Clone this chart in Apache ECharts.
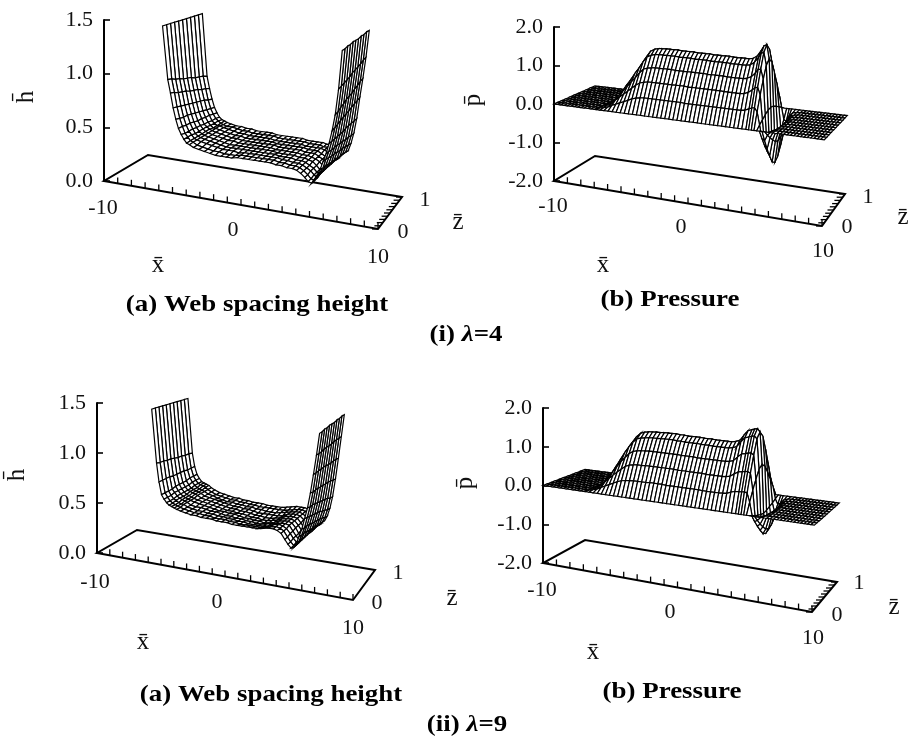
<!DOCTYPE html>
<html><head><meta charset="utf-8">
<style>html,body{margin:0;padding:0;background:#fff}#c{width:911px;height:742px}</style>
<script src="https://cdn.jsdelivr.net/npm/echarts@6/dist/echarts.min.js"></script>
</head><body><div id="c"></div>
<script>
const zLines=[0,.1,.2,.3,.4,.5,.6,.7,.8,.9,1];
const xTicks=[-10,-9,-8,-7,-6,-5,-4,-3,-2,-1,0,1,2,3,4,5,6,7,8,9,10];
const xTickLabels=['-10','0','10'];
const zTickLabels=['1','0'];
const hXs=[-5.8,-5.4,-5.2,-5,-4.8,-4.6,-4.4,-4.2,-4,-3.8,-3.5,-3.1,-2.7,-2.3,-1.9,-1.5,-1.1,-.7,-.3,.1,.5,.9,1.3,1.7,2.1,2.5,2.9,3.3,3.7,4,4.3,4.6,4.85,5.1,5.3,5.5,5.7,5.9,6.1,6.3,6.5,6.7,6.9,7.1];
// web spacing height, lambda=4: one row per x, z = 0 ... 1
const h4=[
[1.5,1.5,1.5,1.5,1.5,1.5,1.5,1.5,1.5,1.5,1.5],
[1.02,1.01,.99,.98,.96,.95,.94,.92,.91,.9,.88],
[.9,.89,.87,.86,.85,.83,.82,.81,.79,.78,.76],
[.77,.76,.75,.74,.73,.72,.71,.7,.69,.67,.66],
[.67,.66,.65,.65,.64,.63,.62,.61,.6,.59,.58],
[.59,.59,.58,.58,.57,.56,.56,.55,.55,.54,.53],
[.54,.53,.53,.53,.52,.52,.51,.51,.5,.5,.49],
[.5,.5,.5,.49,.49,.49,.49,.48,.48,.48,.47],
[.47,.47,.47,.47,.47,.47,.47,.46,.46,.46,.46],
[.46,.46,.46,.46,.46,.46,.46,.46,.46,.45,.45],
[.44,.44,.45,.45,.45,.45,.45,.45,.45,.44,.44],
[.43,.43,.44,.44,.44,.44,.44,.44,.44,.44,.43],
[.42,.42,.43,.43,.43,.43,.43,.43,.43,.43,.43],
[.41,.41,.42,.42,.42,.42,.42,.42,.42,.42,.42],
[.4,.41,.41,.41,.41,.42,.42,.42,.42,.42,.42],
[.4,.4,.41,.41,.41,.41,.41,.41,.41,.41,.41],
[.4,.4,.41,.41,.41,.41,.41,.41,.41,.41,.41],
[.4,.4,.4,.41,.41,.41,.41,.41,.41,.41,.41],
[.41,.41,.41,.41,.41,.41,.41,.41,.41,.41,.41],
[.41,.41,.41,.41,.41,.41,.41,.41,.41,.41,.4],
[.41,.41,.41,.41,.41,.41,.41,.41,.4,.4,.4],
[.41,.41,.41,.41,.41,.41,.41,.4,.4,.4,.4],
[.41,.41,.41,.41,.41,.4,.4,.4,.4,.4,.4],
[.41,.41,.41,.41,.4,.4,.4,.4,.4,.4,.4],
[.41,.41,.41,.4,.4,.4,.4,.4,.4,.4,.4],
[.4,.4,.4,.4,.4,.4,.4,.4,.4,.4,.39],
[.4,.4,.4,.4,.4,.4,.4,.4,.39,.39,.39],
[.39,.39,.39,.39,.39,.39,.39,.39,.39,.39,.39],
[.39,.39,.39,.39,.39,.39,.39,.39,.39,.39,.39],
[.38,.38,.38,.38,.38,.38,.39,.39,.39,.38,.38],
[.36,.36,.36,.36,.37,.37,.37,.37,.38,.38,.38],
[.33,.33,.34,.34,.34,.35,.35,.35,.36,.36,.36],
[.3,.3,.31,.31,.31,.32,.32,.32,.32,.33,.33],
[.29,.29,.29,.3,.3,.3,.3,.31,.31,.31,.32],
[.33,.33,.33,.33,.33,.33,.33,.33,.33,.32,.32],
[.37,.37,.36,.36,.36,.35,.35,.34,.34,.34,.33],
[.42,.41,.41,.4,.39,.39,.38,.37,.37,.36,.35],
[.49,.49,.48,.47,.47,.46,.45,.45,.44,.43,.42],
[.56,.56,.55,.55,.55,.54,.54,.53,.53,.52,.52],
[.65,.65,.65,.65,.65,.65,.66,.66,.66,.66,.66],
[.76,.77,.78,.79,.8,.81,.82,.83,.84,.85,.86],
[.9,.91,.93,.94,.96,.97,.98,1,1.01,1.03,1.04],
[1.12,1.13,1.14,1.15,1.16,1.18,1.19,1.2,1.21,1.23,1.24],
[1.45,1.45,1.46,1.46,1.47,1.47,1.47,1.48,1.48,1.49,1.49]];
// web spacing height, lambda=9
const h9=[
[1.5,1.5,1.5,1.5,1.5,1.5,1.5,1.5,1.5,1.5,1.5],
[.98,.97,.97,.96,.96,.95,.94,.94,.93,.93,.92],
[.8,.8,.8,.8,.79,.79,.79,.79,.78,.78,.78],
[.68,.68,.68,.68,.69,.69,.69,.69,.7,.7,.7],
[.64,.64,.64,.65,.65,.65,.65,.65,.66,.66,.66],
[.61,.61,.61,.62,.62,.62,.62,.62,.63,.63,.63],
[.59,.59,.6,.6,.6,.6,.61,.61,.61,.62,.62],
[.58,.58,.58,.59,.59,.59,.6,.6,.6,.61,.61],
[.57,.57,.57,.58,.58,.58,.59,.59,.59,.6,.6],
[.56,.56,.57,.57,.57,.57,.58,.58,.58,.58,.58],
[.55,.55,.55,.55,.56,.56,.56,.56,.56,.56,.56],
[.54,.54,.54,.54,.55,.55,.55,.55,.55,.54,.54],
[.53,.53,.53,.54,.54,.54,.54,.54,.53,.53,.53],
[.53,.53,.53,.53,.53,.53,.53,.53,.52,.52,.52],
[.52,.52,.52,.52,.52,.52,.52,.52,.51,.51,.51],
[.52,.52,.52,.52,.51,.51,.51,.51,.51,.51,.51],
[.52,.51,.51,.51,.51,.5,.5,.5,.5,.5,.5],
[.51,.51,.51,.5,.5,.5,.5,.5,.5,.5,.5],
[.51,.51,.5,.5,.5,.49,.49,.49,.49,.49,.49],
[.51,.5,.5,.49,.49,.49,.49,.49,.49,.49,.49],
[.5,.5,.49,.49,.48,.48,.48,.48,.48,.48,.49],
[.5,.49,.49,.48,.48,.47,.47,.47,.48,.48,.48],
[.5,.49,.48,.48,.47,.47,.47,.47,.47,.48,.48],
[.5,.49,.48,.47,.47,.46,.46,.47,.47,.48,.48],
[.5,.49,.48,.47,.46,.46,.46,.47,.47,.48,.48],
[.5,.49,.48,.48,.47,.47,.47,.47,.48,.48,.49],
[.51,.5,.49,.49,.48,.48,.48,.48,.49,.49,.5],
[.52,.51,.51,.5,.5,.5,.5,.5,.5,.5,.51],
[.52,.52,.52,.51,.51,.51,.51,.51,.51,.51,.51],
[.51,.51,.51,.51,.51,.51,.51,.51,.51,.51,.51],
[.49,.49,.49,.5,.5,.5,.5,.5,.5,.5,.5],
[.44,.44,.45,.45,.46,.46,.46,.47,.47,.47,.47],
[.4,.4,.41,.41,.41,.42,.42,.42,.43,.43,.43],
[.37,.37,.38,.38,.38,.39,.39,.39,.39,.4,.4],
[.38,.38,.38,.38,.38,.38,.38,.38,.38,.38,.38],
[.42,.42,.42,.41,.41,.41,.4,.4,.4,.39,.39],
[.49,.48,.48,.47,.46,.45,.45,.44,.43,.42,.41],
[.56,.55,.55,.54,.53,.52,.51,.5,.49,.47,.46],
[.66,.65,.64,.63,.62,.61,.6,.58,.57,.55,.54],
[.76,.75,.75,.74,.73,.72,.71,.7,.69,.67,.66],
[.9,.89,.89,.89,.88,.88,.87,.87,.86,.85,.84],
[1.07,1.07,1.07,1.07,1.07,1.07,1.06,1.06,1.06,1.06,1.05],
[1.25,1.25,1.25,1.26,1.26,1.26,1.26,1.27,1.27,1.27,1.27],
[1.45,1.45,1.46,1.46,1.47,1.47,1.47,1.48,1.48,1.49,1.49]];
const pFlatLeft=[-10,-9.75,-9.5,-9.25,-9,-8.75,-8.5,-8.25,-8,-7.75,-7.5,-7.25,-7,-6.85];
const pXs=[-6.6,-6.3,-6,-5.7,-5.4,-5.1,-4.8,-4.5,-4.2,-3.9,-3.6,-3.3,-3,-2.7,-2.4,-2.1,-1.8,-1.5,-1.2,-.9,-.6,-.3,0,.3,.6,.9,1.2,1.5,1.8,2.1,2.4,2.7,3,3.3,3.6,3.9,4.2,4.4,4.6,4.8,5,5.2,5.4,5.6,5.9,6.2];
const pFlatRight=[6.5,6.75,7,7.25,7.5,7.75,8,8.25,8.5,8.75,9,9.25,9.5,9.75,10];
// pressure: one row per x, z = .1,.2,.3,.4,.5 (z=0 and z=1 are zero, far half mirrors near half)
const p4=[
[.01,.03,.04,.05,.05],[.04,.08,.12,.15,.16],[.1,.19,.27,.34,.37],[.14,.28,.4,.51,.55],[.19,.36,.52,.66,.72],
[.23,.45,.65,.83,.9],[.28,.54,.77,.98,1.07],[.33,.63,.9,1.15,1.25],[.36,.7,1.01,1.29,1.4],[.38,.73,1.05,1.34,1.46],
[.39,.75,1.07,1.37,1.49],[.39,.75,1.08,1.38,1.5],[.39,.75,1.08,1.38,1.5],[.39,.75,1.08,1.38,1.5],[.39,.75,1.08,1.38,1.5],
[.39,.75,1.08,1.38,1.5],[.39,.75,1.07,1.37,1.49],[.39,.75,1.07,1.37,1.49],[.39,.75,1.07,1.37,1.49],[.39,.75,1.07,1.37,1.49],
[.38,.74,1.07,1.36,1.48],[.38,.74,1.07,1.36,1.48],[.38,.74,1.07,1.36,1.48],[.38,.74,1.07,1.36,1.48],[.38,.74,1.06,1.35,1.47],
[.38,.74,1.06,1.35,1.47],[.38,.74,1.06,1.35,1.47],[.38,.74,1.06,1.35,1.47],[.38,.74,1.06,1.35,1.47],[.38,.73,1.05,1.34,1.46],
[.38,.73,1.05,1.34,1.46],[.38,.73,1.05,1.34,1.46],[.38,.73,1.05,1.34,1.46],[.38,.73,1.05,1.34,1.46],[.38,.74,1.07,1.36,1.48],
[.4,.78,1.12,1.43,1.55],[.44,.85,1.22,1.56,1.7],[.47,.91,1.31,1.67,1.82],[.48,.93,1.33,1.7,1.85],[.39,.75,1.08,1.38,1.5],
[.08,.15,.22,.28,.3],[-.23,-.45,-.65,-.83,-.9],[-.27,-.53,-.76,-.97,-1.05],[-.13,-.25,-.36,-.46,-.5],[-.03,-.06,-.09,-.11,-.12],[-.01,-.02,-.02,-.03,-.03]];
const p9=[
[.02,.03,.04,.06,.06],[.05,.1,.14,.18,.2],[.11,.21,.3,.39,.42],[.16,.31,.45,.57,.62],[.21,.41,.59,.75,.82],
[.26,.5,.73,.93,1.01],[.31,.59,.85,1.09,1.18],[.35,.67,.96,1.22,1.33],[.37,.72,1.03,1.32,1.43],[.38,.74,1.06,1.35,1.47],
[.39,.75,1.07,1.37,1.49],[.39,.75,1.08,1.38,1.5],[.39,.76,1.09,1.39,1.51],[.39,.76,1.09,1.39,1.51],[.4,.76,1.09,1.4,1.52],
[.4,.76,1.09,1.4,1.52],[.4,.76,1.09,1.4,1.52],[.4,.76,1.09,1.4,1.52],[.39,.76,1.09,1.39,1.51],[.39,.76,1.09,1.39,1.51],
[.39,.75,1.08,1.38,1.5],[.39,.75,1.08,1.38,1.5],[.39,.75,1.08,1.38,1.5],[.39,.75,1.08,1.38,1.5],[.39,.75,1.07,1.37,1.49],
[.39,.75,1.07,1.37,1.49],[.39,.75,1.07,1.37,1.49],[.38,.74,1.07,1.36,1.48],[.38,.74,1.07,1.36,1.48],[.38,.74,1.07,1.36,1.48],
[.38,.74,1.07,1.36,1.48],[.38,.74,1.07,1.36,1.48],[.39,.75,1.08,1.38,1.5],[.4,.77,1.11,1.42,1.54],[.44,.84,1.21,1.55,1.68],
[.47,.9,1.3,1.66,1.8],[.48,.92,1.32,1.69,1.84],[.48,.93,1.34,1.71,1.86],[.49,.94,1.35,1.73,1.88],[.47,.9,1.3,1.66,1.8],
[.26,.5,.72,.92,1],[-.05,-.1,-.14,-.18,-.2],[-.18,-.34,-.49,-.63,-.68],[-.14,-.28,-.4,-.51,-.55],[-.04,-.08,-.11,-.14,-.15],[-.01,-.02,-.03,-.04,-.04]];

function fullP(half){return [0,...half,...half.slice(0,4).reverse(),0];}
function pressureRows(table){
  const zero=zLines.map(()=>0);
  return {xs:[...pFlatLeft,...pXs,...pFlatRight],rows:[...pFlatLeft.map(()=>zero),...table.map(fullP),...pFlatRight.map(()=>zero)]};
}
const LBL='#111',FONT='"Liberation Serif","Times New Roman",serif';
const panels=[
 {left:104,top:20,width:274,height:161,yMin:0,yMax:1.5,step:.5,dF:48,dL:[44,-26],dR:[24,-32],zComb:true,xs:hXs,rows:h4},
 {left:554,top:27,width:268,height:154,yMin:-2,yMax:2,step:1,dF:45,dL:[41,-25],dR:[23,-32],zComb:true,...pressureRows(p4)},
 {left:97,top:403,width:256,height:150,yMin:0,yMax:1.5,step:.5,dF:47,dL:[40,-23],dR:[22,-30],zComb:false,xs:hXs,rows:h9},
 {left:543,top:408,width:269,height:155,yMin:-2,yMax:2,step:1,dF:49,dL:[42,-23],dR:[25,-30],zComb:true,...pressureRows(p9)}
];
const kR=1.12,kB=.91,lean=.03;
const mix=(a,b,t)=>a+(b-a)*t;
function project(api,P,x,z,v){
  const t=(x+10)/20, base=api.coord([x,P.yMin]), top=api.coord([x,v]), H=base[1]-top[1];
  const k=mix(1,kR,t)*mix(1,kB,z);
  return [base[0]+z*mix(P.dL[0],P.dR[0],t)+lean*t*H, base[1]+t*P.dF+z*mix(P.dL[1],P.dR[1],t)-H*k];
}
function floorRender(P){return function(params,api){
  const fl=(x,z)=>project(api,P,x,z,P.yMin), kids=[];
  kids.push({type:'polygon',shape:{points:[fl(-10,0),fl(10,0),fl(10,1),fl(-10,1)]},style:{stroke:'#000',lineWidth:2,fill:'none'}});
  xTicks.forEach(x=>{const a=fl(x,0);kids.push({type:'line',shape:{x1:a[0],y1:a[1],x2:a[0],y2:a[1]-6},style:{stroke:'#000',lineWidth:1.3}});});
  if(P.zComb) zLines.forEach(z=>{const a=fl(10,z);kids.push({type:'line',shape:{x1:a[0],y1:a[1],x2:a[0]-6,y2:a[1]},style:{stroke:'#000',lineWidth:1.3}});});
  return {type:'group',children:kids};
};}
function surfaceRender(P){return function(params,api){
  const i=api.value(2);
  if(i>=P.xs.length-1) return {type:'group',children:[]};
  const kids=[],x0=P.xs[i],x1=P.xs[i+1],r0=P.rows[i],r1=P.rows[i+1];
  for(let j=zLines.length-2;j>=0;j--){
    kids.push({type:'polygon',shape:{points:[
      project(api,P,x0,zLines[j],r0[j]),project(api,P,x1,zLines[j],r1[j]),
      project(api,P,x1,zLines[j+1],r1[j+1]),project(api,P,x0,zLines[j+1],r0[j+1])]},
      style:{fill:'#fff',stroke:'#000',lineWidth:1.2}});
  }
  return {type:'group',children:kids};
};}
const grid=[],xAxis=[],yAxis=[],series=[];
panels.forEach((P,n)=>{
  grid.push({left:P.left,top:P.top,width:P.width,height:P.height});
  xAxis.push({type:'value',gridIndex:n,min:-10,max:10,show:false});
  yAxis.push({type:'value',gridIndex:n,min:P.yMin,max:P.yMax,interval:P.step,splitLine:{show:false},
    axisLine:{show:true,onZero:false,lineStyle:{color:'#000',width:2}},
    axisTick:{show:true,inside:true,length:6,lineStyle:{color:'#000',width:1.6}},
    axisLabel:{color:LBL,fontFamily:FONT,fontSize:22,margin:11,formatter:v=>v.toFixed(1)}});
  series.push({type:'custom',xAxisIndex:n,yAxisIndex:n,z:2,silent:true,animation:false,renderItem:floorRender(P),data:[[0,P.yMin,0]],encode:{x:0,y:1}});
  series.push({type:'custom',xAxisIndex:n,yAxisIndex:n,z:3,silent:true,animation:false,renderItem:surfaceRender(P),
    data:P.xs.map((x,i)=>[x,P.yMin,i]),encode:{x:0,y:1}});
});
function label(text,x,y,size,opt){
  return Object.assign({type:'text',x:x,y:y,silent:true,style:Object.assign({text:text,fill:LBL,font:size+'px '+FONT,align:'center',verticalAlign:'middle'},opt&&opt.style||{})},opt&&opt.el||{});
}
const ticksAt=[
 {x:[[103,208],[233,230],[378,257]],z:[[425,200],[403,232]],zn:[458,222],xn:[158,265],y:[26,97],yn:'h\u0304'},
 {x:[[553,206],[681,227],[823,251]],z:[[868,197],[847,227]],zn:[903,217],xn:[603,265],y:[473,100],yn:'p\u0304'},
 {x:[[95,582],[217,602],[353,628]],z:[[398,573],[377,603]],zn:[452,598],xn:[143,642],y:[17,475],yn:'h\u0304'},
 {x:[[542,590],[670,612],[813,638]],z:[[859,583],[837,615]],zn:[894,607],xn:[593,652],y:[465,483],yn:'p\u0304'}
];
const graphic=[];
ticksAt.forEach(a=>{
  a.x.forEach((p,i)=>graphic.push(label(xTickLabels[i],p[0],p[1],22)));
  a.z.forEach((p,i)=>graphic.push(label(zTickLabels[i],p[0],p[1],22)));
  graphic.push(label('z\u0304',a.zn[0],a.zn[1],25));
  graphic.push(label('x\u0304',a.xn[0],a.xn[1],25));
  graphic.push(label(a.yn,a.y[0],a.y[1],25,{el:{rotation:Math.PI/2}}));
});
const bold='bold 23px '+FONT;
function caption(text,x,y){return {type:'text',x:x,y:y,scaleX:1.17,silent:true,style:{text:text,fill:'#000',font:bold,align:'center',verticalAlign:'middle'}};}
graphic.push(caption('(a) Web spacing height',257,305),caption('(b) Pressure',670,300),caption('(a) Web spacing height',271,695),caption('(b) Pressure',672,692));
function lambda(prefix,val,x,y){return {type:'text',x:x,y:y,scaleX:1.17,silent:true,style:{text:prefix+' {l|\u03bb}='+val,fill:'#000',font:bold,align:'center',verticalAlign:'middle',
  rich:{l:{font:'italic bold 23px '+FONT,fill:'#000'}}}};}
graphic.push(lambda('(i)','4',466,335),lambda('(ii)','9',467,725));
const chart=echarts.init(document.getElementById('c'),null,{renderer:'canvas'});
chart.setOption({backgroundColor:'#fff',animation:false,grid,xAxis,yAxis,series,graphic});
</script></body></html>
